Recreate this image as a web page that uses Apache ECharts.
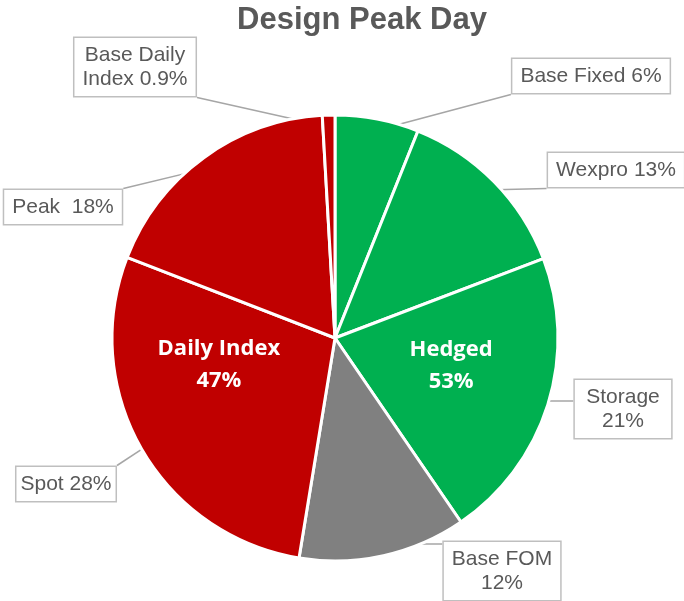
<!DOCTYPE html>
<html>
<head>
<meta charset="utf-8">
<script src="https://cdn.jsdelivr.net/npm/echarts@6/dist/echarts.min.js"></script>
<style>
	html,body{margin:0;padding:0;background:#fff;}
	#chart{width:684px;height:601px;}
</style>
</head>
<body>
<div id="chart"></div>
<script>
//数据
var names = ['Base Fixed', 'Wexpro', 'Storage', 'Base FOM', 'Spot', 'Peak', 'Base Daily Index'];
var values = [6, 13, 21, 12, 28, 18, 0.9];
var colors = ['#00B050', '#00B050', '#00B050', '#808080', '#C00000', '#C00000', '#C00000'];
var groupNames = ['Hedged', 'Daily Index'];
var groupMembers = [['Base Fixed', 'Wexpro', 'Storage', 'Base FOM'], ['Spot', 'Peak', 'Base Daily Index']];

//标签文字换行
var labelText = {
	'Base Fixed': 'Base Fixed {v}%',
	'Wexpro': 'Wexpro {v}%',
	'Storage': 'Storage\n{v}%',
	'Base FOM': 'Base FOM\n{v}%',
	'Spot': 'Spot {v}%',
	'Peak': 'Peak  {v}%',
	'Base Daily Index': 'Base Daily\nIndex {v}%'
};
//标签框中心位置
var labelPos = {
	'Base Fixed': [591, 76],
	'Wexpro': [616, 170],
	'Storage': [623, 409],
	'Base FOM': [502, 571],
	'Spot': [66, 484],
	'Peak': [63, 207],
	'Base Daily Index': [135, 67]
};
var groupOffset = {'Hedged': [2, 18], 'Daily Index': [-2, 36]};

var center = [335, 338];
var radius = 223;

var sliceData = names.map(function(n, i){
	return {name: n, value: values[i], itemStyle: {color: colors[i]}};
});
var groupData = groupNames.map(function(g, i){
	var sum = 0;
	for(var k = 0; k < names.length; k++){
		if(groupMembers[i].indexOf(names[k]) >= 0){ sum += values[k]; }
	}
	return {name: g, value: sum, label: {offset: groupOffset[g]}};
});

var myChart = echarts.init(document.getElementById('chart'));
myChart.setOption({
	animation: false,
	title: {
		text: 'Design Peak Day',
		left: 357,
		top: 0,
		textAlign: 'center',
		textStyle: {fontFamily: 'Liberation Sans', fontWeight: 'bold', fontSize: 31, color: '#595959'}
	},
	series: [{
		type: 'pie',
		center: center,
		radius: radius,
		startAngle: 90,
		clockwise: true,
		itemStyle: {borderColor: '#fff', borderWidth: 3},
		label: {
			show: true,
			position: 'outside',
			overflow: 'none',
			formatter: function(p){
				return labelText[p.name].replace('{v}', p.value);
			},
			fontFamily: 'Liberation Sans',
			fontSize: 21,
			lineHeight: 24,
			color: '#595959',
			backgroundColor: '#fff',
			borderColor: '#bfbfbf',
			borderWidth: 1.5,
			padding: [5, 8]
		},
		labelLine: {show: true, length: 20, length2: 10, lineStyle: {color: '#a6a6a6', width: 1.5}},
		labelLayout: function(p){
			var name = names[p.dataIndex];
			var pos = labelPos[name];
			var r = p.labelRect;
			var x0 = pos[0] - r.width / 2, x1 = pos[0] + r.width / 2;
			var y0 = pos[1] - r.height / 2, y1 = pos[1] + r.height / 2;
			//引线起点略微伸入扇区
			var s0 = p.labelLinePoints[0];
			var vx = s0[0] - center[0], vy = s0[1] - center[1];
			var len = Math.sqrt(vx * vx + vy * vy) || 1;
			var s = [s0[0] - vx / len * 12, s0[1] - vy / len * 12];
			var e = [Math.min(Math.max(s[0], x0), x1), Math.min(Math.max(s[1], y0), y1)];
			return {x: pos[0], y: pos[1], align: 'center', verticalAlign: 'middle', labelLinePoints: [s, e]};
		},
		data: sliceData
	}, {
		type: 'pie',
		center: center,
		radius: radius,
		startAngle: 90,
		clockwise: true,
		silent: true,
		percentPrecision: 0,
		itemStyle: {color: 'rgba(0,0,0,0)', borderWidth: 0},
		label: {
			show: true,
			position: 'inside',
			formatter: '{b}\n{d}%',
			fontFamily: 'Open Sans',
			fontWeight: 'bold',
			fontSize: 22,
			lineHeight: 32,
			color: '#fff'
		},
		labelLine: {show: false},
		data: groupData
	}]
});
</script>
</body>
</html>
